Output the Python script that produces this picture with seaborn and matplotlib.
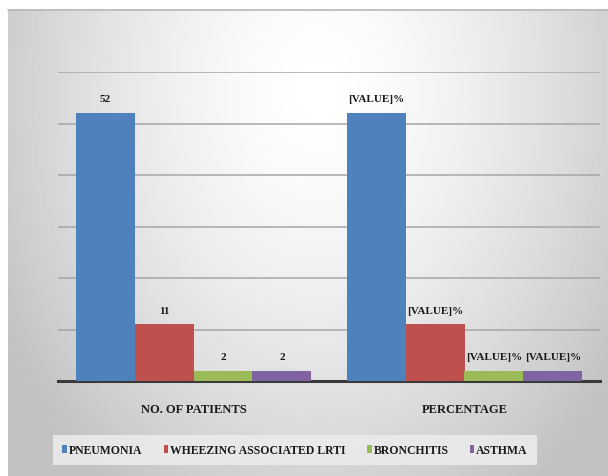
import numpy as np
import pandas as pd
import matplotlib
matplotlib.use("Agg")
import matplotlib.pyplot as plt
import seaborn as sns

# Data
groups = ["NO. OF PATIENTS", "PERCENTAGE"]
diseases = ["PNEUMONIA", "WHEEZING ASSOCIATED LRTI", "BRONCHITIS", "ASTHMA"]
patients = [52, 11, 2, 2]
percentage = [52, 11, 2, 2]
patient_labels = ["52", "11", "2", "2"]
percent_labels = ["[VALUE]%", "[VALUE]%", "[VALUE]%", "[VALUE]%"]
colors = ["#4F81BD", "#C0504D", "#9BBB59", "#8064A2"]

df = pd.DataFrame({
    "group": [groups[0]] * 4 + [groups[1]] * 4,
    "disease": diseases * 2,
    "value": patients + percentage,
})

sns.set_style("white")
plt.rcParams["font.family"] = ["Liberation Serif", "DejaVu Serif"]
plt.rcParams["font.weight"] = "bold"

W, H = 608, 477
fig = plt.figure(figsize=(W / 100, H / 100), dpi=100)
fig.patch.set_facecolor("white")

# gradient panel behind the chart
bg = fig.add_axes([0, 0, 1, 1], zorder=-10)
bg.set_xlim(0, W)
bg.set_ylim(H, 0)
bg.axis("off")
yy, xx = np.mgrid[0:467, 0:600]
r = np.sqrt(((xx - 310) / 320.0) ** 2 + ((yy - 80) / 430.0) ** 2)
shade = np.clip(1.0 - 0.2 * r ** 1.5, 0.76, 1.0)
bg.imshow(shade, cmap="gray", vmin=0, vmax=1, extent=[8, 608, 477, 10],
          aspect="auto", interpolation="bilinear")
bg.plot([8, 608], [10.5, 10.5], color="#b8b8b8", lw=1.2)

ax = fig.add_axes([58 / W, 1 - 382 / H, 542 / W, (382 - 73) / H])
ax.patch.set_alpha(0)
sns.barplot(data=df, x="group", y="value", hue="disease", hue_order=diseases,
            order=groups, palette=colors, width=0.87, saturation=1,
            linewidth=0, ax=ax, zorder=3)
ax.set_ylim(0, 60)
ax.set_yticks(np.arange(10, 61, 10))
ax.set_yticklabels([])
ax.yaxis.grid(True, color="#a6a6a6", lw=1.1, zorder=0)
ax.set_axisbelow(True)
for s in ["top", "left", "right"]:
    ax.spines[s].set_visible(False)
ax.spines["bottom"].set_color("#3a3a3a")
ax.spines["bottom"].set_linewidth(2.2)
ax.tick_params(axis="both", length=0, pad=16, labelsize=9, labelcolor="#1a1a1a")
ax.set_xlabel("")
ax.set_ylabel("")

for cont, lab_a, lab_b in zip(ax.containers, patient_labels, percent_labels):
    ax.bar_label(cont, labels=[lab_a, lab_b], padding=7, fontsize=8,
                 fontweight="bold", color="#1a1a1a")

handles, labels = ax.get_legend_handles_labels()
ax.legend_.remove()
leg = fig.legend(handles, labels, loc="center", bbox_to_anchor=(295 / W, 1 - 451 / H),
                 ncol=4, frameon=True, fontsize=8.5, handlelength=0.4,
                 handleheight=0.7, handletextpad=0.15, columnspacing=1.8,
                 borderpad=0.8, fancybox=False)
for t in leg.get_texts():
    t.set_color("#1a1a1a")
leg.get_frame().set_facecolor("#ebebeb")
leg.get_frame().set_edgecolor("none")
leg.get_frame().set_alpha(0.9)

fig.savefig("out.png", dpi=100)
